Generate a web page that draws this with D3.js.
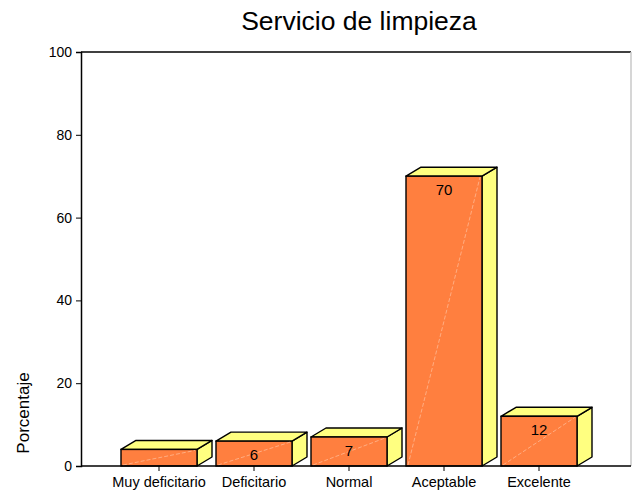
<!DOCTYPE html>
<html>
<head>
<meta charset="utf-8">
<script src="https://cdn.jsdelivr.net/npm/d3@7"></script>
<style>
  html, body { margin: 0; padding: 0; background: #fff; }
  svg { display: block; font-family: "Liberation Sans", Arial, sans-serif; }
</style>
</head>
<body>
<svg id="chart" width="632" height="492"></svg>
<script>
const title = "Servicio de limpieza";
const yTitle = "Porcentaje";
const categories = ["Muy deficitario", "Deficitario", "Normal", "Aceptable", "Excelente"];
const values = [4, 6, 7, 70, 12];
const yTicks = [0, 20, 40, 60, 80, 100];

(function () {
const svg = d3.select("#chart");
const pLeft = 81, pRight = 631, pTop = 52, pBottom = 466;
const depthX = 15, depthY = -9;
const FONT = "Liberation Sans, Arial, sans-serif";

const y = d3.scaleLinear().domain([0, 100]).range([pBottom, pTop]);
const x = d3.scaleBand().domain(categories).range([111.5, 586.5])
  .paddingInner(0.2).paddingOuter(0.1);

// title
svg.append("text").attr("x", 359).attr("y", 30).attr("text-anchor", "middle")
  .attr("font-size", 26.5).attr("fill", "#000").text(title);

// frame: top and right
svg.append("line").attr("x1", pLeft).attr("x2", pRight).attr("y1", pTop).attr("y2", pTop)
  .attr("stroke", "#404040").attr("stroke-width", 2);
svg.append("line").attr("x1", pRight).attr("x2", pRight).attr("y1", pTop).attr("y2", pBottom)
  .attr("stroke", "#c8c8c8").attr("stroke-width", 1.5);

// y axis
const yAxis = d3.axisLeft(y).tickValues(yTicks).tickSize(5).tickPadding(4);
const gy = svg.append("g").attr("transform", `translate(${pLeft},0)`).call(yAxis);
gy.select(".domain").attr("stroke", "#000").attr("stroke-width", 1.5);
gy.selectAll(".tick line").attr("stroke", "#000");
gy.selectAll(".tick text").attr("font-size", 14).attr("font-family", FONT).attr("fill", "#000");

// bars
const g = svg.append("g");
categories.forEach((c, i) => {
  const v = values[i];
  const x0 = x(c), x1 = x(c) + x.bandwidth();
  const yt = y(v), yb = y(0);
  g.append("path")
    .attr("d", `M${x1},${yb} L${x1 + depthX},${yb + depthY} L${x1 + depthX},${yt + depthY} L${x1},${yt} Z`)
    .attr("fill", "#ffff80").attr("stroke", "#000").attr("stroke-width", 1.4).attr("stroke-linejoin", "round");
  g.append("path")
    .attr("d", `M${x0},${yt} L${x0 + depthX},${yt + depthY} L${x1 + depthX},${yt + depthY} L${x1},${yt} Z`)
    .attr("fill", "#ffff80").attr("stroke", "#000").attr("stroke-width", 1.4).attr("stroke-linejoin", "round");
  g.append("rect").attr("x", x0).attr("y", yt).attr("width", x.bandwidth()).attr("height", yb - yt)
    .attr("fill", "#ff7f3f").attr("stroke", "#000").attr("stroke-width", 1.4);
  g.append("line").attr("x1", x0 + 2).attr("y1", yb - 1).attr("x2", x1 - 2).attr("y2", yt + 1)
    .attr("stroke", "#ffc8a8").attr("stroke-width", 0.8).attr("stroke-dasharray", "4,2").attr("opacity", 0.8);
  if (yb - yt > 20) {
    g.append("text").attr("x", (x0 + x1) / 2).attr("y", yt + 19).attr("text-anchor", "middle")
      .attr("font-size", 15).attr("fill", "#000").text(v);
  }
});

// x axis
const xAxis = d3.axisBottom(x).tickSize(5).tickPadding(6).tickSizeOuter(0);
const gx = svg.append("g").attr("transform", `translate(0,${pBottom})`).call(xAxis);
gx.select(".domain").remove();
gx.selectAll(".tick line").attr("stroke", "#000");
gx.selectAll(".tick text").attr("font-size", 14.5).attr("font-family", FONT).attr("fill", "#000");
svg.append("line").attr("x1", pLeft).attr("x2", pRight).attr("y1", pBottom).attr("y2", pBottom)
  .attr("stroke", "#000").attr("stroke-width", 1.5);

// y title
svg.append("text").attr("transform", `translate(29,413) rotate(-90)`).attr("text-anchor", "middle")
  .attr("font-size", 17).attr("fill", "#000").text(yTitle);
})();
</script>
</body>
</html>
